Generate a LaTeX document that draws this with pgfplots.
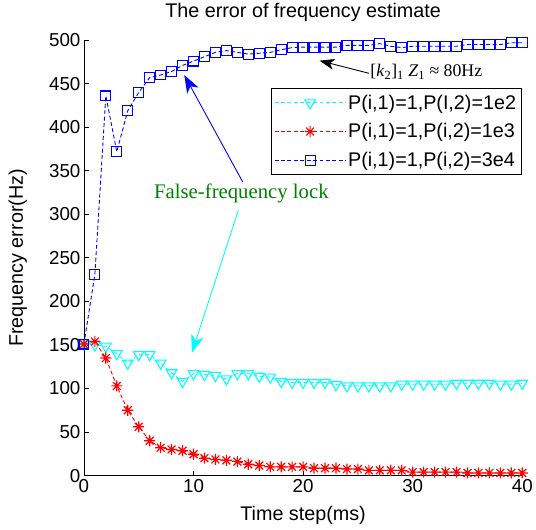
\documentclass[border=0pt]{standalone}
\usepackage{pgfplots}
\pgfplotsset{compat=1.18}
\usepackage{fontspec}
\setmainfont{Liberation Sans}
\newfontfamily\timesfont{Liberation Serif}
\usetikzlibrary{arrows.meta}
\definecolor{mgreen}{rgb}{0,0.5,0}
\definecolor{mcyan}{rgb}{0,1,1}
\definecolor{mred}{rgb}{1,0,0}
\definecolor{mblue}{rgb}{0,0,1}
\pgfdeclareplotmark{ast8}{%
  \pgfpathmoveto{\pgfqpoint{-\pgfplotmarksize}{0pt}}\pgfpathlineto{\pgfqpoint{\pgfplotmarksize}{0pt}}%
  \pgfpathmoveto{\pgfqpoint{0pt}{-\pgfplotmarksize}}\pgfpathlineto{\pgfqpoint{0pt}{\pgfplotmarksize}}%
  \pgfpathmoveto{\pgfqpoint{-0.707\pgfplotmarksize}{-0.707\pgfplotmarksize}}\pgfpathlineto{\pgfqpoint{0.707\pgfplotmarksize}{0.707\pgfplotmarksize}}%
  \pgfpathmoveto{\pgfqpoint{-0.707\pgfplotmarksize}{0.707\pgfplotmarksize}}\pgfpathlineto{\pgfqpoint{0.707\pgfplotmarksize}{-0.707\pgfplotmarksize}}%
  \pgfusepathqstroke}
\begin{document}
\begin{tikzpicture}
\begin{axis}[
  at={(0,0)}, anchor=south west,
  scale only axis, width=444pt, height=441pt,
  xmin=0, xmax=40, ymin=0, ymax=500,
  xtick={0,10,20,30,40}, ytick={0,50,...,500},
  axis x line*=bottom, axis y line*=left,
  axis line style={-, line width=0.8pt},
  tick align=inside, major tick length=5pt,
  tick style={line width=0.8pt, black},
  /pgf/number format/assume math mode=true,
  ticklabel style={font=\fontsize{19}{22}\selectfont},
  title={The error of frequency estimate},
  title style={font=\fontsize{20}{24}\selectfont, at={(axis description cs:0.5,1.050)}, anchor=center},
  xlabel={Time step(ms)},
  xlabel style={font=\fontsize{20}{24}\selectfont, at={(axis description cs:0.5,-0.0907)}, anchor=center},
  ylabel={Frequency error(Hz)},
  ylabel style={font=\fontsize{20}{24}\selectfont, at={(axis description cs:-0.151,0.5)}, anchor=center},
  clip=false,
  legend style={at={(axis description cs:0.998,0.891)}, anchor=north east,
    draw=black, line width=0.9pt, font=\fontsize{20}{24}\selectfont,
    inner xsep=3pt, inner ysep=5pt, row sep=9pt},
  legend cell align=left,
  legend image code/.code={\draw[#1, mark repeat=2, mark phase=2] plot coordinates {(0pt,0pt)(36pt,0pt)(72pt,0pt)};},
]
\addplot[draw=mcyan, line width=0.9pt, dash pattern=on 4pt off 2.5pt, mark=triangle, mark size=6.2pt, mark options={draw=mcyan, solid, rotate=180, line width=1.1pt}] coordinates {
(0,151)(1,150)(2,148.5)(3,140)(4,129)(5,139)(6,139)(7,129)(8,118)(9,108)(10,117)
(11,116)(12,115)(13,111)(14,117)(15,117)(16,114)(17,113)(18,108)(19,107)(20,107)
(21,107)(22,107)(23,104.5)(24,103)(25,103)(26,103)(27,103)(28,103)(29,105)(30,105)
(31,105)(32,105)(33,105)(34,106)(35,106)(36,106)(37,106)(38,105)(39,105)(40,106)};
\addlegendentry{P(i,1)=1,P(I,2)=1e2}
\addplot[draw=mred, line width=0.9pt, dash pattern=on 4pt off 2.5pt, mark=ast8, mark size=5.6pt, mark options={draw=mred, solid, line width=1.2pt}] coordinates {
(0,151)(1,154)(2,135)(3,103)(4,75)(5,56)(6,40)(7,32)(8,30)(9,28.5)(10,24.5)
(11,20)(12,18.5)(13,17.5)(14,16)(15,13)(16,11.5)(17,10)(18,10)(19,10)(20,10)
(21,8.5)(22,8.5)(23,8.5)(24,7.5)(25,7.5)(26,6)(27,6)(28,6)(29,6)(30,4)
(31,4)(32,4)(33,4)(34,4)(35,3)(36,3)(37,3)(38,3)(39,3)(40,3)};
\addlegendentry{P(i,1)=1,P(i,2)=1e3}
\addplot[draw=mblue, line width=0.9pt, dash pattern=on 4pt off 2.5pt, mark=square, mark size=5pt, mark options={draw=mblue, solid, line width=1.1pt}] coordinates {
(0,151)(1,231)(2,436)(3,372)(4,419)(5,440)(6,457)(7,460)(8,464)(9,471)(10,476)
(11,481)(12,486)(13,488)(14,486)(15,484)(16,485)(17,486)(18,489)(19,491.5)(20,492)
(21,492)(22,492)(23,492)(24,494)(25,494)(26,494)(27,496)(28,493)(29,491.5)(30,493)
(31,493)(32,493)(33,493)(34,493)(35,495)(36,495)(37,495)(38,495)(39,497)(40,497)};
\addlegendentry{P(i,1)=1,P(i,2)=3e4}
\draw[mblue, line width=0.9pt, -{Stealth[length=18pt,width=13pt,inset=5pt]}] (axis cs:14.5,337) -- (axis cs:9.16,460);
\draw[mcyan, line width=0.9pt, -{Stealth[length=18pt,width=13pt,inset=5pt]}] (axis cs:14.1,305) -- (axis cs:9.85,141);
\draw[black, line width=0.9pt, -{Stealth[length=15pt,width=11pt,inset=4pt]}] (axis cs:26.0,462) -- (axis cs:21.5,476.5);
\node[text=mgreen, font=\timesfont\fontsize{21}{25}\selectfont] at (axis cs:14.37,324.3) {False-frequency lock};
\node[anchor=west, font=\timesfont\fontsize{18}{21}\selectfont, inner sep=0pt] at (axis cs:26.13,463.7) {[\textit{k}\textsubscript{2}]\textsubscript{1} \textit{Z}\textsubscript{1} ≈ 80Hz};
\end{axis}
\path (-85pt,-55pt) rectangle (451pt,481pt);
\end{tikzpicture}
\end{document}
